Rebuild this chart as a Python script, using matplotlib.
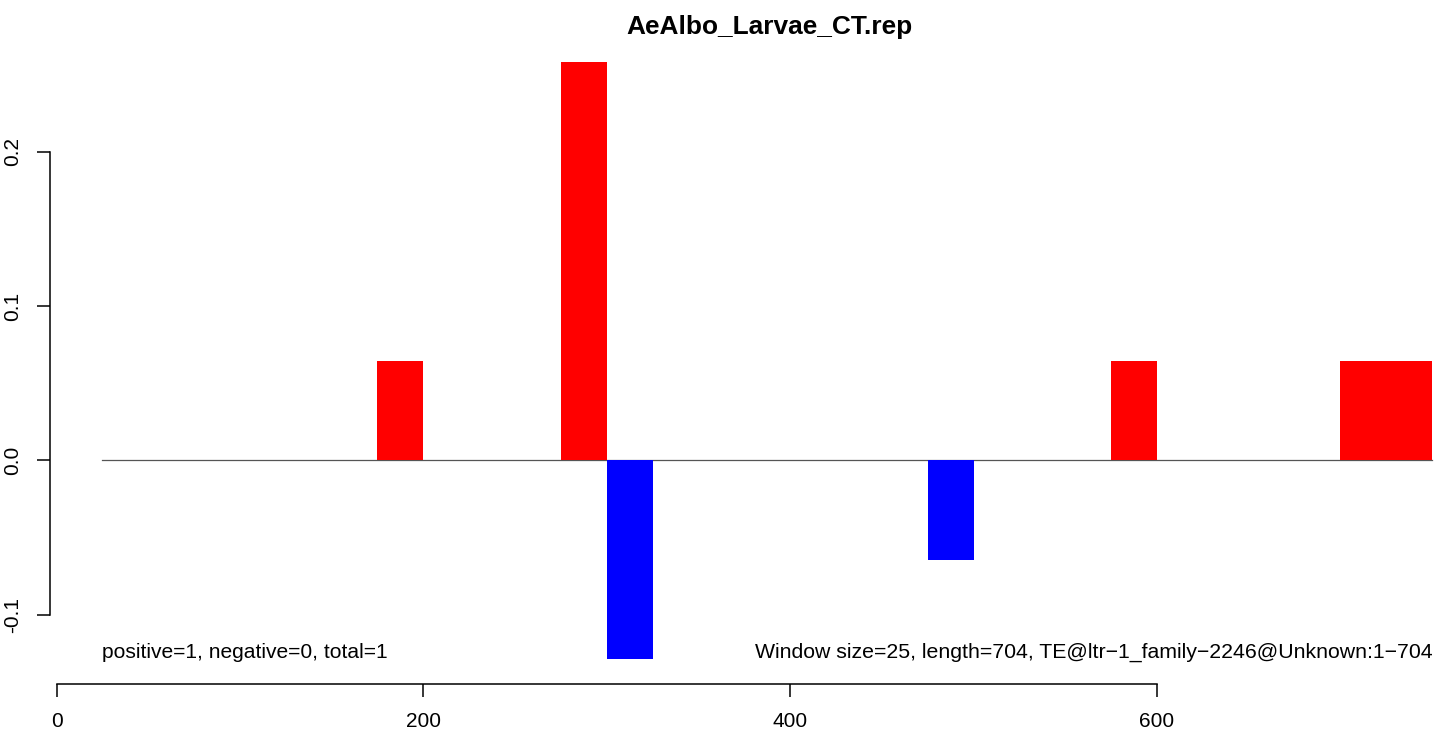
import matplotlib
matplotlib.use("Agg")
import matplotlib.pyplot as plt

plt.rcParams['font.family'] = ['Liberation Sans', 'DejaVu Sans']

title = "AeAlbo_Larvae_CT.rep"
window_size = 25
bar_starts = [175, 275, 300, 475, 575, 700, 725]
bar_values = [0.0645, 0.258, -0.129, -0.0645, 0.0645, 0.0645, 0.0645]
baseline_range = [25, 750]
x_ticks = [0, 200, 400, 600]
y_ticks = [-0.1, 0.0, 0.1, 0.2]
y_ticklabels = ["-0.1", "0.0", "0.1", "0.2"]
left_note = "positive=1, negative=0, total=1"
right_note = "Window size=25, length=704, TE@ltr\u22121_family\u22122246@Unknown:1\u2212704"

W, H = 1439, 731
fig = plt.figure(figsize=(W / 100, H / 100), dpi=100)

# pixel geometry of plot region
px_left, px_right, px_top, px_bottom = 50, 1439, 38, 684
x0_px = 56.5
x_scale = (1157 - x0_px) / 600      # px per unit
y0_px, y_scale = 460.3, 1543.0      # pixel of y=0, px per unit

ax = fig.add_axes([px_left / W, 1 - px_bottom / H,
                   (px_right - px_left) / W, (px_bottom - px_top) / H])
ax.set_xlim((px_left - x0_px) / x_scale, (px_right - x0_px) / x_scale)
ax.set_ylim(-(px_bottom - y0_px) / y_scale, (y0_px - px_top) / y_scale)

colors = ['#FF0000' if v > 0 else '#0000FF' for v in bar_values]
ax.bar(bar_starts, bar_values, width=window_size, align='edge',
       color=colors, linewidth=0, zorder=2)
ax.plot(baseline_range, [0, 0], color='#555555', lw=0.9, zorder=1)

for s in ['top', 'right']:
    ax.spines[s].set_visible(False)
ax.spines['left'].set_bounds(y_ticks[0], y_ticks[-1])
ax.spines['bottom'].set_bounds(x_ticks[0], x_ticks[-1])
for s in ['left', 'bottom']:
    ax.spines[s].set_linewidth(1.1)

ax.set_xticks(x_ticks)
ax.set_xticklabels([str(t) for t in x_ticks])
ax.set_yticks(y_ticks)
ax.set_yticklabels(y_ticklabels, rotation=90, va='center')
ax.tick_params(axis='both', direction='out', length=9.4, width=1.1,
               labelsize=15, colors='black')
ax.tick_params(axis='x', pad=11)
ax.tick_params(axis='y', pad=10.5)

# title centred over the (clipped) R plot region, pixel-based
fig.text(769.5 / W, 1 - 27 / H, title, fontsize=18.9, fontweight='bold',
         ha='center', va='center')

note_y = -(652 - y0_px) / y_scale
ax.text(baseline_range[0], note_y, left_note, ha='left', va='center', fontsize=15.1)
ax.text(baseline_range[1], note_y, right_note, ha='right', va='center', fontsize=15.3)

fig.savefig("out.png", dpi=100)
